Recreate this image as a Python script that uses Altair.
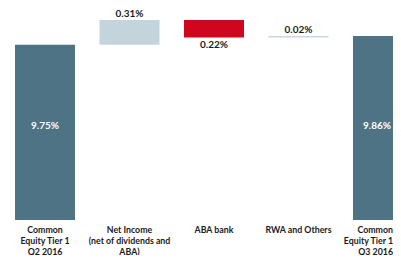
import altair as alt
import pandas as pd

labels = [
    "Common|Equity Tier 1|Q2 2016",
    "Net Income|(net of dividends  and|ABA)",
    "ABA bank",
    "RWA and Others",
    "Common|Equity Tier 1|Q3 2016",
]
values = [9.75, 0.31, -0.22, 0.02, 9.86]
kinds = ["total", "up", "down", "flat", "total"]
texts = ["9.75%", "0.31%", "0.22%", "0.02%", "9.86%"]
colors = ["#4e7385", "#c4d4dc", "#d0061e", "#c9d6de", "#4e7385"]

rows = []
running = 0.0
for i, (lab, v, k, t, c) in enumerate(zip(labels, values, kinds, texts, colors)):
    if k == "total":
        start, end = 0.0, v
        running = v
    else:
        start, end = running, running + v
        running = end
    rows.append({"label": lab, "start": start, "end": end, "kind": k,
                 "text": t, "color": c, "mid": 8.74, "last": i == len(labels) - 1})
df = pd.DataFrame(rows)

xscale = alt.Scale(domain=labels, range=[0, 412], paddingInner=0.29, paddingOuter=0.083)
yscale = alt.Scale(domain=[7.56, 10.135], clamp=True, zero=False)

x = alt.X("label:N", sort=labels, scale=xscale, title=None,
          axis=alt.Axis(labelExpr="split(datum.label, '|')", labelAngle=0,
                        domain=False, ticks=False, labelPadding=5,
                        labelFont="Lato", labelFontWeight="bold", labelFontSize=8.8,
                        labelColor="#1a1a1a", labelLineHeight=11,
                        labelBaseline="top",
                        labelAlign={"condition": {"test": "datum.index == 1", "value": "right"},
                                    "value": "center"},
                        labelOffset={"condition": {"test": "datum.index == 1", "value": 10},
                                     "value": 0}))

base = alt.Chart(df)

bars = base.mark_bar(clip=True).encode(
    x=x,
    y=alt.Y("start:Q", scale=yscale, axis=None),
    y2="end:Q",
    color=alt.Color("color:N", scale=None),
)

tot_text = base.transform_filter("datum.kind == 'total' && !datum.last").mark_text(
    font="Lato", fontWeight="bold", fontSize=10, color="white"
).encode(x=x, y=alt.Y("mid:Q", scale=yscale), text="text:N")

tot_text_last = base.transform_filter("datum.last").mark_text(
    font="Lato", fontWeight="bold", fontSize=10, color="white", dx=-6
).encode(x=x, y=alt.Y("mid:Q", scale=yscale), text="text:N")

up_text = base.transform_filter("datum.kind == 'up' || datum.kind == 'flat'").mark_text(
    font="Lato", fontWeight="bold", fontSize=10, color="#1a1a1a", baseline="bottom", dy=-1
).encode(x=x, y=alt.Y("end:Q", scale=yscale), text="text:N")

down_text = base.transform_filter("datum.kind == 'down'").mark_text(
    font="Lato", fontWeight="bold", fontSize=10, color="#1a1a1a", baseline="top", dy=2
).encode(x=x, y=alt.Y("end:Q", scale=yscale), text="text:N")

chart = alt.layer(bars, tot_text, tot_text_last, up_text, down_text).properties(
    width=385, height=206,
    autosize=alt.AutoSizeParams(type="none"),
    padding={"left": 0, "top": 6, "right": 0, "bottom": 35},
).configure_view(stroke=None)

chart.save("out.html", embed_options={"renderer": "svg", "actions": False})
